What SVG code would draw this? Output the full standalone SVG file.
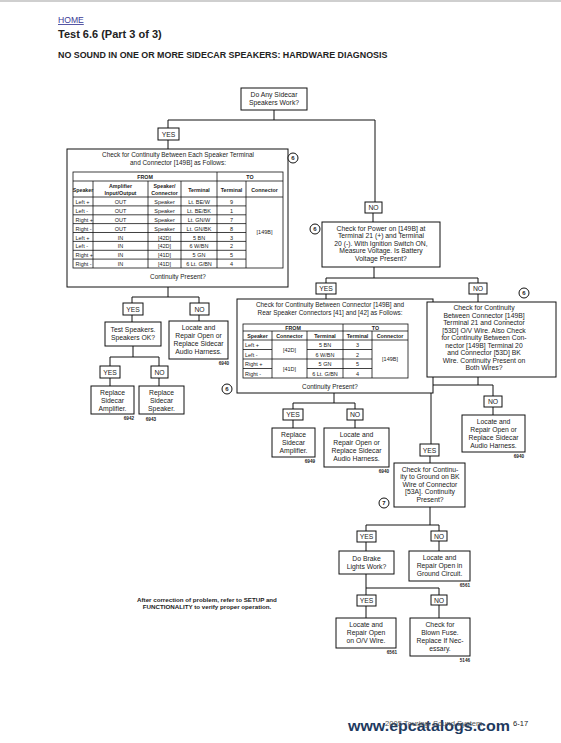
<svg xmlns="http://www.w3.org/2000/svg" width="561" height="743" viewBox="0 0 561 743">
<style>
text{font-family:"Liberation Sans",Arial,Helvetica,sans-serif;fill:#222}
.b{fill:#fff;stroke:#111;stroke-width:1}
.t{font-size:6.8px;text-anchor:middle}
.tt{font-size:6.4px;text-anchor:middle}
.y{font-size:6.8px;text-anchor:middle}
.n{font-size:4.6px;font-weight:bold;text-anchor:end}
.c{fill:none;stroke:#111;stroke-width:1}
.g{fill:none;stroke:#111;stroke-width:0.8}
.h{font-size:5.3px;font-weight:bold;text-anchor:middle}
.d{font-size:5.5px;text-anchor:middle}
.dl{font-size:5.5px}
.ci{fill:#fff;stroke:#111;stroke-width:1}
.cn{font-size:6px;font-weight:bold;text-anchor:middle}
</style>
<rect x="0" y="0" width="561" height="2" fill="#cfcfcf"/>
<g id="header">
<text x="58" y="23" style="font-size:8.6px;fill:#3c3c96;text-decoration:underline">HOME</text>
<text x="58" y="38" style="font-size:11px;font-weight:bold">Test 6.6 (Part 3 of 3)</text>
<text x="58" y="58" style="font-size:8.9px;font-weight:bold">NO SOUND IN ONE OR MORE SIDECAR SPEAKERS: HARDWARE DIAGNOSIS</text>
</g>
<g id="connectors">
<path class="c" d="M274 110V120M168 120H375M168 120V128M375 120V202M168 140V149"/>
<path class="c" d="M168 287V297M132 297H199M132 297V303M199 297V303M132 315V322M199 315V321"/>
<path class="c" d="M133 346V357M110 357H159M110 357V366M159 357V366M110 378V386M159 378V386"/>
<path class="c" d="M373 213V222M374 267V278M326 278H478M326 278V283M478 278V283M326 294V299M478 294V302"/>
<path class="c" d="M334 393V403M293 403H355M293 403V409M355 403V409M293 420V428M355 420V428"/>
<path class="c" d="M478 377V385M431 385H493M493 385V396M431 385V444M493 407V415M430 456V463"/>
<path class="c" d="M430 507V525M366 525H439M366 525V531M439 525V531M366 542V551M439 541V551"/>
<path class="c" d="M366 574V588H439V595M366 588V595M366 606V618M439 605V618"/>
</g>
<g id="n-start">
<rect class="b" x="241" y="88" width="66" height="22"/>
<text class="t" x="274" y="97">Do Any Sidecar</text>
<text class="t" x="274" y="105">Speakers Work?</text>
</g>
<g id="yes1"><rect class="b" x="158" y="128" width="21" height="12"/><text class="y" x="168.5" y="136.5">YES</text></g>
<g id="n-table1">
<rect class="b" x="67" y="149" width="221" height="138"/>
<text class="tt" x="178" y="157">Check for Continuity Between Each Speaker Terminal</text>
<text class="tt" x="178" y="165">and Connector [149B] as Follows:</text>
<rect class="g" x="73" y="172" width="210" height="96"/>
<path class="g" d="M217 172V268M73 181H283M73 197H283M93 181V268M148 181V268M181 181V268M246 181V268M73 205.9H246M73 214.8H246M73 223.6H246M73 232.5H246M73 241.4H246M73 250.3H246M73 259.1H246"/>
<text class="h" x="145" y="179">FROM</text>
<text class="h" x="250" y="179">TO</text>
<text class="h" x="83" y="191.5">Speaker</text>
<text class="h" x="120.5" y="188">Amplifier</text>
<text class="h" x="120.5" y="194.5">Input/Output</text>
<text class="h" x="164.5" y="188">Speaker/</text>
<text class="h" x="164.5" y="194.5">Connector</text>
<text class="h" x="199" y="191.5">Terminal</text>
<text class="h" x="231.5" y="191.5">Terminal</text>
<text class="h" x="264.5" y="191.5">Connector</text>
<g>
<text class="dl" x="75.5" y="204">Left +</text><text class="d" x="120.5" y="204">OUT</text><text class="d" x="164.5" y="204">Speaker</text><text class="d" x="199" y="204">Lt. BE/W</text><text class="d" x="231.5" y="204">9</text>
<text class="dl" x="75.5" y="212.9">Left -</text><text class="d" x="120.5" y="212.9">OUT</text><text class="d" x="164.5" y="212.9">Speaker</text><text class="d" x="199" y="212.9">Lt. BE/BK</text><text class="d" x="231.5" y="212.9">1</text>
<text class="dl" x="75.5" y="221.8">Right +</text><text class="d" x="120.5" y="221.8">OUT</text><text class="d" x="164.5" y="221.8">Speaker</text><text class="d" x="199" y="221.8">Lt. GN/W</text><text class="d" x="231.5" y="221.8">7</text>
<text class="dl" x="75.5" y="230.6">Right -</text><text class="d" x="120.5" y="230.6">OUT</text><text class="d" x="164.5" y="230.6">Speaker</text><text class="d" x="199" y="230.6">Lt. GN/BK</text><text class="d" x="231.5" y="230.6">8</text>
<text class="dl" x="75.5" y="239.5">Left +</text><text class="d" x="120.5" y="239.5">IN</text><text class="d" x="164.5" y="239.5">[42D]</text><text class="d" x="199" y="239.5">5 BN</text><text class="d" x="231.5" y="239.5">3</text>
<text class="dl" x="75.5" y="248.4">Left -</text><text class="d" x="120.5" y="248.4">IN</text><text class="d" x="164.5" y="248.4">[42D]</text><text class="d" x="199" y="248.4">6 W/BN</text><text class="d" x="231.5" y="248.4">2</text>
<text class="dl" x="75.5" y="257.3">Right +</text><text class="d" x="120.5" y="257.3">IN</text><text class="d" x="164.5" y="257.3">[41D]</text><text class="d" x="199" y="257.3">5 GN</text><text class="d" x="231.5" y="257.3">5</text>
<text class="dl" x="75.5" y="266.1">Right -</text><text class="d" x="120.5" y="266.1">IN</text><text class="d" x="164.5" y="266.1">[41D]</text><text class="d" x="199" y="266.1">6 Lt. G/BN</text><text class="d" x="231.5" y="266.1">4</text>
<text class="d" x="264.5" y="234">[149B]</text>
</g>
<text class="tt" x="178" y="279">Continuity Present?</text>
<circle class="ci" cx="293" cy="158" r="5"/><text class="cn" x="293" y="160.2">6</text>
</g>
<g id="yes2"><rect class="b" x="123" y="303" width="20" height="12"/><text class="y" x="133" y="311.5">YES</text></g>
<g id="no2"><rect class="b" x="190" y="303" width="19" height="12"/><text class="y" x="199.5" y="311.5">NO</text></g>
<g id="n-testspk">
<rect class="b" x="105" y="322" width="56" height="24"/>
<text class="t" x="133" y="331.5">Test Speakers.</text>
<text class="t" x="133" y="339.5">Speakers OK?</text>
</g>
<g id="n-harness1">
<rect class="b" x="169" y="321" width="59" height="38"/>
<text class="t" x="198.5" y="330">Locate and</text>
<text class="t" x="198.5" y="338">Repair Open or</text>
<text class="t" x="198.5" y="346">Replace Sidecar</text>
<text class="t" x="198.5" y="354">Audio Harness.</text>
<text class="n" x="229" y="365">6940</text>
</g>
<g id="yes3"><rect class="b" x="100" y="366" width="20" height="12"/><text class="y" x="110" y="374.5">YES</text></g>
<g id="no3"><rect class="b" x="151" y="366" width="17" height="12"/><text class="y" x="159.5" y="374.5">NO</text></g>
<g id="n-amp1">
<rect class="b" x="91" y="386" width="43" height="28"/>
<text class="t" x="112.5" y="394.5">Replace</text>
<text class="t" x="112.5" y="402.5">Sidecar</text>
<text class="t" x="112.5" y="410.5">Amplifier.</text>
<text class="n" x="134" y="420">6942</text>
</g>
<g id="n-spk">
<rect class="b" x="139" y="386" width="45" height="28"/>
<text class="t" x="161.5" y="394.5">Replace</text>
<text class="t" x="161.5" y="402.5">Sidecar</text>
<text class="t" x="161.5" y="410.5">Speaker.</text>
<text class="n" x="156" y="421">6943</text>
</g>
<g id="no4"><rect class="b" x="365" y="202" width="17" height="11"/><text class="y" x="373.5" y="210">NO</text></g>
<g id="n-power">
<rect class="b" x="322" y="222" width="118" height="45"/>
<text class="t" x="381" y="230.5">Check for Power on [149B] at</text>
<text class="t" x="381" y="238">Terminal 21 (+) and Terminal</text>
<text class="t" x="381" y="245.5">20 (-). With Ignition Switch ON,</text>
<text class="t" x="381" y="253">Measure Voltage. Is Battery</text>
<text class="t" x="381" y="260.5">Voltage Present?</text>
<circle class="ci" cx="315" cy="229" r="5"/><text class="cn" x="315" y="231.2">6</text>
</g>
<g id="yes5"><rect class="b" x="316" y="283" width="20" height="11"/><text class="y" x="326" y="291">YES</text></g>
<g id="no5"><rect class="b" x="469" y="283" width="18" height="11"/><text class="y" x="478" y="291">NO</text></g>
<g id="n-table2">
<rect class="b" x="237" y="299" width="196" height="94"/>
<text class="tt" x="330" y="306.5">Check for Continuity Between Connector [149B] and</text>
<text class="tt" x="330" y="314.5">Rear Speaker Connectors [41] and [42] as Follows:</text>
<rect class="g" x="243" y="324" width="165" height="54"/>
<path class="g" d="M343 324V378M243 331H408M243 340H408M272 331V378M307 331V378M372 331V378M243 349.5H272M307 349.5H372M243 359H372M243 368.5H272M307 368.5H372"/>
<text class="h" x="293" y="329.8">FROM</text>
<text class="h" x="375.5" y="329.8">TO</text>
<text class="h" x="257.5" y="338">Speaker</text>
<text class="h" x="289.5" y="338">Connector</text>
<text class="h" x="325" y="338">Terminal</text>
<text class="h" x="357.5" y="338">Terminal</text>
<text class="h" x="390" y="338">Connector</text>
<text class="dl" x="245" y="347">Left +</text>
<text class="dl" x="245" y="356.5">Left -</text>
<text class="dl" x="245" y="366">Right +</text>
<text class="dl" x="245" y="375.5">Right -</text>
<text class="d" x="289.5" y="351.5">[42D]</text>
<text class="d" x="289.5" y="370.5">[41D]</text>
<text class="d" x="325" y="347">5 BN</text>
<text class="d" x="325" y="356.5">6 W/BN</text>
<text class="d" x="325" y="366">5 GN</text>
<text class="d" x="325" y="375.5">6 Lt. G/BN</text>
<text class="d" x="357.5" y="347">3</text>
<text class="d" x="357.5" y="356.5">2</text>
<text class="d" x="357.5" y="366">5</text>
<text class="d" x="357.5" y="375.5">4</text>
<text class="d" x="390" y="361">[149B]</text>
<text class="tt" x="330" y="388.5">Continuity Present?</text>
<circle class="ci" cx="227" cy="389" r="5"/><text class="cn" x="227" y="391.2">6</text>
</g>
<g id="yes6"><rect class="b" x="283" y="409" width="20" height="11"/><text class="y" x="293" y="417">YES</text></g>
<g id="no6"><rect class="b" x="347" y="409" width="16" height="11"/><text class="y" x="355" y="417">NO</text></g>
<g id="n-amp2">
<rect class="b" x="272" y="428" width="43" height="29"/>
<text class="t" x="293.5" y="436.5">Replace</text>
<text class="t" x="293.5" y="444.5">Sidecar</text>
<text class="t" x="293.5" y="452.5">Amplifier.</text>
<text class="n" x="315" y="462.5">6949</text>
</g>
<g id="n-harness2">
<rect class="b" x="324" y="428" width="65" height="39"/>
<text class="t" x="356.5" y="437">Locate and</text>
<text class="t" x="356.5" y="445">Repair Open or</text>
<text class="t" x="356.5" y="453">Replace Sidecar</text>
<text class="t" x="356.5" y="461">Audio Harness.</text>
<text class="n" x="389" y="473">6940</text>
</g>
<g id="n-wires">
<rect class="b" x="427" y="302" width="129" height="75"/>
<text class="t" x="484" y="310">Check for Continuity</text>
<text class="t" x="484" y="317.5">Between Connector [149B]</text>
<text class="t" x="484" y="325">Terminal 21 and Connector</text>
<text class="t" x="484" y="332.5">[53D] O/V Wire. Also Check</text>
<text class="t" x="484" y="340">for Continuity Between Con-</text>
<text class="t" x="484" y="347.5">nector [149B] Terminal 20</text>
<text class="t" x="484" y="355">and Connector [53D] BK</text>
<text class="t" x="484" y="362.5">Wire. Continuity Present on</text>
<text class="t" x="484" y="370">Both Wires?</text>
<circle class="ci" cx="524" cy="293" r="5"/><text class="cn" x="524" y="295.2">6</text>
</g>
<g id="no7"><rect class="b" x="484" y="396" width="18" height="11"/><text class="y" x="493" y="404">NO</text></g>
<g id="n-harness3">
<rect class="b" x="462" y="415" width="63" height="37"/>
<text class="t" x="493.5" y="423.5">Locate and</text>
<text class="t" x="493.5" y="431.5">Repair Open or</text>
<text class="t" x="493.5" y="439.5">Replace Sidecar</text>
<text class="t" x="493.5" y="447.5">Audio Harness.</text>
<text class="n" x="524" y="458">6940</text>
</g>
<g id="yes7"><rect class="b" x="420" y="444" width="19" height="12"/><text class="y" x="429.5" y="452.5">YES</text></g>
<g id="n-ground">
<rect class="b" x="394" y="463" width="71" height="44"/>
<text class="t" x="430" y="471.5">Check for Continu-</text>
<text class="t" x="430" y="479">ity to Ground on BK</text>
<text class="t" x="430" y="486.5">Wire of Connector</text>
<text class="t" x="430" y="494">[53A]. Continuity</text>
<text class="t" x="430" y="501.5">Present?</text>
<circle class="ci" cx="384" cy="503" r="5"/><text class="cn" x="384" y="505.2">7</text>
</g>
<g id="yes8"><rect class="b" x="357" y="531" width="19" height="11"/><text class="y" x="366.5" y="539">YES</text></g>
<g id="no8"><rect class="b" x="431" y="531" width="16" height="10"/><text class="y" x="439" y="538.5">NO</text></g>
<g id="n-brake">
<rect class="b" x="339" y="551" width="55" height="23"/>
<text class="t" x="366.5" y="560.5">Do Brake</text>
<text class="t" x="366.5" y="568.5">Lights Work?</text>
</g>
<g id="n-groundckt">
<rect class="b" x="409" y="551" width="61" height="30"/>
<text class="t" x="439.5" y="559.5">Locate and</text>
<text class="t" x="439.5" y="567.5">Repair Open in</text>
<text class="t" x="439.5" y="575.5">Ground Circuit.</text>
<text class="n" x="470" y="587">6561</text>
</g>
<g id="yes9"><rect class="b" x="357" y="595" width="19" height="11"/><text class="y" x="366.5" y="603">YES</text></g>
<g id="no9"><rect class="b" x="431" y="595" width="16" height="10"/><text class="y" x="439" y="602.5">NO</text></g>
<g id="n-ovwire">
<rect class="b" x="336" y="618" width="60" height="30"/>
<text class="t" x="366" y="627">Locate and</text>
<text class="t" x="366" y="635">Repair Open</text>
<text class="t" x="366" y="643">on O/V Wire.</text>
<text class="n" x="397" y="653.5">6561</text>
</g>
<g id="n-fuse">
<rect class="b" x="410" y="618" width="60" height="38"/>
<text class="t" x="440" y="626.5">Check for</text>
<text class="t" x="440" y="634.5">Blown Fuse.</text>
<text class="t" x="440" y="642.5">Replace If Nec-</text>
<text class="t" x="440" y="650.5">essary.</text>
<text class="n" x="470" y="662">5146</text>
</g>
<g id="note">
<text x="207" y="602" style="font-size:6.2px;font-weight:bold;text-anchor:middle">After correction of problem, refer to SETUP and</text>
<text x="207" y="609" style="font-size:6.2px;font-weight:bold;text-anchor:middle">FUNCTIONALITY to verify proper operation.</text>
</g>
<g id="footer">
<text x="348" y="731" textLength="162" lengthAdjust="spacingAndGlyphs" style="font-size:15px;font-weight:bold;fill:#1e3a5f">www.epcatalogs.com</text>
<text x="385" y="726" style="font-size:7.6px;fill:#555">2005 Touring: Sound System</text>
<text x="513" y="726" style="font-size:7.6px">6-17</text>
</g>
</svg>
